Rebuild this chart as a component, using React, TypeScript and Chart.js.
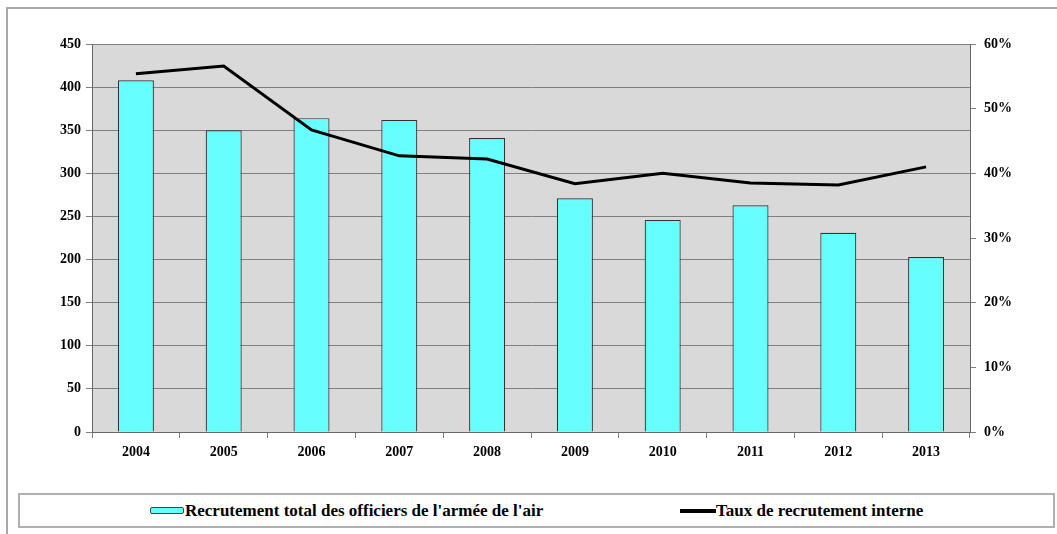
import React, { useEffect, useRef } from "react";
import { Chart, registerables } from "chart.js";

Chart.register(...registerables);

const years = ["2004", "2005", "2006", "2007", "2008", "2009", "2010", "2011", "2012", "2013"];
const totalRecruitment = [408, 350, 364, 362, 341, 271, 246, 263, 231, 203];
const internalRate = [55.4, 56.6, 46.7, 42.7, 42.2, 38.4, 40.0, 38.5, 38.2, 41.0];
const barLabel = "Recrutement total des officiers de l'armée de l'air";
const lineLabel = "Taux de recrutement interne";

const FONT = "'Liberation Serif', 'Times New Roman', serif";

const plotBg = {
  id: "plotBg",
  beforeDraw(chart: any) {
    const { ctx, chartArea } = chart;
    ctx.save();
    ctx.fillStyle = "#d9d9d9";
    ctx.fillRect(chartArea.left, chartArea.top, chartArea.right - chartArea.left, chartArea.bottom - chartArea.top);
    ctx.restore();
  },
};

export default function App() {
  const ref = useRef<HTMLCanvasElement>(null);
  useEffect(() => {
    if (!ref.current) return;
    const tickFont = { family: FONT, size: 14, weight: "bold" as const };
    const chart = new Chart(ref.current, {
      type: "bar",
      data: {
        labels: years,
        datasets: [
          {
            type: "line",
            label: lineLabel,
            data: internalRate,
            borderColor: "#000",
            borderWidth: 3,
            pointRadius: 0,
            tension: 0,
            yAxisID: "y1",
            order: 0,
          } as any,
          {
            type: "bar",
            label: barLabel,
            data: totalRecruitment,
            backgroundColor: "#66ffff",
            borderColor: "#333333",
            borderWidth: 1.2,
            barPercentage: 0.41,
            categoryPercentage: 1,
            yAxisID: "y",
            order: 1,
          },
        ],
      },
      options: {
        responsive: false,
        animation: false,
        layout: { padding: { top: 44, left: 0, right: 0, bottom: 0 } },
        plugins: { legend: { display: false }, tooltip: { enabled: false } },
        scales: {
          x: {
            offset: true,
            grid: { drawOnChartArea: false, drawTicks: true, tickLength: 6, color: "#808080", offset: true },
            border: { display: true, color: "#666666" },
            ticks: { font: tickFont, color: "#000", padding: 6 },
            afterFit(scale: any) {
              scale.height = 48;
            },
          },
          y: {
            position: "left",
            min: 0,
            max: 450,
            ticks: { stepSize: 50, font: tickFont, color: "#000", padding: 5 },
            grid: { color: "#808080", tickLength: 6 },
            border: { display: true, color: "#666666" },
            afterFit(scale: any) {
              scale.width = 92;
            },
          },
          y1: {
            position: "right",
            min: 0,
            max: 60,
            ticks: { stepSize: 10, font: tickFont, color: "#000", padding: 8, callback: (v: any) => v + "%" },
            grid: { drawOnChartArea: false, tickLength: 6, color: "#808080" },
            border: { display: true, color: "#666666" },
            afterFit(scale: any) {
              scale.width = 87;
            },
          },
        },
      },
      plugins: [plotBg],
    });
    return () => chart.destroy();
  }, []);

  const legendText: React.CSSProperties = {
    fontFamily: FONT,
    fontWeight: "bold",
    fontSize: 17,
    color: "#000",
    whiteSpace: "nowrap",
  };

  return (
    <div style={{ position: "fixed", left: 0, top: 0, width: 1057, height: 534, overflow: "hidden", background: "#fff" }}>
      <div
        style={{
          position: "absolute",
          left: 6,
          top: 7,
          width: 1100,
          height: 600,
          borderLeft: "2px solid #a8a8a8",
          borderTop: "2px solid #a8a8a8",
        }}
      />
      <canvas ref={ref} width={1057} height={480} style={{ position: "absolute", left: 0, top: 0, width: 1057, height: 480 }} />
      <div
        style={{
          position: "absolute",
          left: 18,
          top: 493,
          width: 1037,
          height: 35,
          border: "2px solid #b0b0b0",
          boxSizing: "border-box",
        }}
      >
        <div style={{ position: "absolute", left: 130, top: 0, height: 31, display: "flex", alignItems: "center" }}>
          <span
            style={{
              display: "inline-block",
              width: 32,
              height: 5,
              background: "#66ffff",
              border: "1.5px solid #2f4f4f",
              borderRadius: 2,
              marginRight: 1,
            }}
          />
          <span style={legendText}>{barLabel}</span>
        </div>
        <div style={{ position: "absolute", left: 660, top: 0, height: 31, display: "flex", alignItems: "center" }}>
          <span style={{ display: "inline-block", width: 36, height: 4, background: "#000" }} />
          <span style={legendText}>{lineLabel}</span>
        </div>
      </div>
    </div>
  );
}
